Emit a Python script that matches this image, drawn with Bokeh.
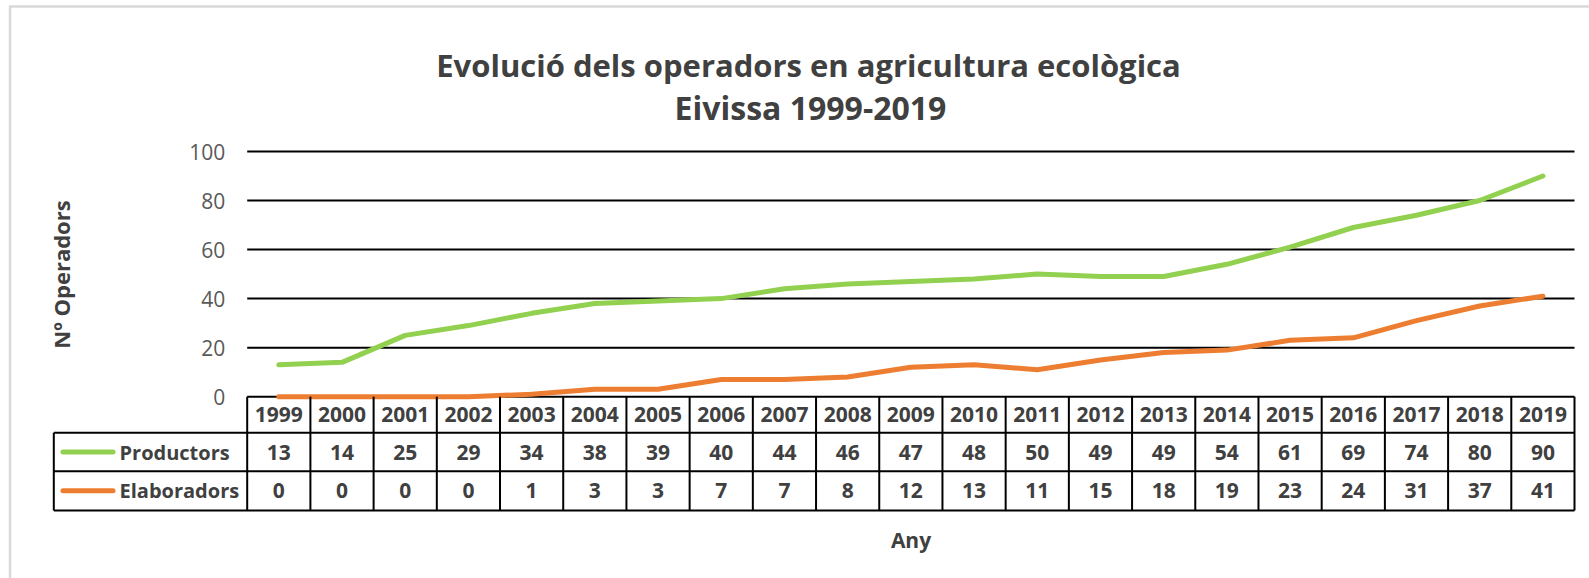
import math
from bokeh.plotting import figure
from bokeh.models import Range1d, FixedTicker
from bokeh.core.properties import value
from bokeh.embed import file_html
from bokeh.resources import INLINE

# ---------------- data ----------------
years = [str(y) for y in range(1999, 2020)]
productors = [13, 14, 25, 29, 34, 38, 39, 40, 44, 46, 47, 48, 50, 49, 49, 54, 61, 69, 74, 80, 90]
elaboradors = [0, 0, 0, 0, 1, 3, 3, 7, 7, 8, 12, 13, 11, 15, 18, 19, 23, 24, 31, 37, 41]
series_names = ["Productors", "Elaboradors"]
y_ticks = [0, 20, 40, 60, 80, 100]
title_lines = ["Evolució dels operadors en agricultura ecològica", "Eivissa 1999-2019"]
y_label = "Nº Operadors"
x_label = "Any"

# ---------------- layout (canvas px) ----------------
W, H = 1589, 578
COL_X0, COL_X1 = 246.7, 1574.0      # year columns area
TABLE_LEFT = 53.3                   # left edge of legend column
Y0_PX, Y100_PX = 396.2, 151.0       # y=0 and y=100 positions
ROW_EDGES = [396.2, 432.3, 470.7, 510.0]

n = len(years)
col_w = (COL_X1 - COL_X0) / n
ppu = (Y0_PX - Y100_PX) / 100.0
x_start = -0.5 - COL_X0 / col_w
x_end = n - 0.5 + (W - COL_X1) / col_w
y_start = -(H - Y0_PX) / ppu
y_end = 100 + Y100_PX / ppu

GREEN = "#92D050"
ORANGE = "#ED7D31"
TXT = "#404040"
FONT = value("Open Sans")

p = figure(width=W, height=H, output_backend="svg", toolbar_location=None,
           x_range=Range1d(x_start, x_end), y_range=Range1d(y_start, y_end),
           x_axis_location=None, min_border=0, min_border_left=0,
           min_border_right=0, min_border_top=0, min_border_bottom=0)
p.extra_x_ranges = {"px": Range1d(0, W)}
p.extra_y_ranges = {"px": Range1d(H, 0)}
p.outline_line_color = None
p.grid.visible = False
p.background_fill_color = "white"
p.border_fill_color = "white"

# y axis placed at the left edge of the year columns
ax = p.yaxis[0]
ax.fixed_location = -0.5
ax.ticker = FixedTicker(ticks=y_ticks)
ax.axis_line_color = None
ax.major_tick_line_color = None
ax.minor_tick_line_color = None
ax.major_tick_in = 0
ax.major_tick_out = 0
ax.major_label_standoff = 22
ax.major_label_text_font = "Open Sans"
ax.major_label_text_font_size = "21px"
ax.major_label_text_color = "#595959"

# horizontal gridlines (0 line doubles as table top)
p.segment(x0=[-0.5] * len(y_ticks), x1=[n - 0.5] * len(y_ticks), y0=y_ticks, y1=y_ticks,
          line_color="black", line_width=2)

# series lines
xs = list(range(n))
p.line(xs, productors, line_color=GREEN, line_width=5, line_cap="round", line_join="round")
p.line(xs, elaboradors, line_color=ORANGE, line_width=5, line_cap="round", line_join="round")

# ---------- data table ----------
edges = [i - 0.5 for i in range(n + 1)]
p.segment(x0=edges, x1=edges, y0=[ROW_EDGES[0]] * len(edges), y1=[ROW_EDGES[-1]] * len(edges),
          y_range_name="px", line_color="black", line_width=2)
p.segment(x0=[TABLE_LEFT] * 3, x1=[COL_X1] * 3, y0=ROW_EDGES[1:], y1=ROW_EDGES[1:],
          x_range_name="px", y_range_name="px", line_color="black", line_width=2)
p.segment(x0=[TABLE_LEFT], x1=[TABLE_LEFT], y0=[ROW_EDGES[1]], y1=[ROW_EDGES[-1]],
          x_range_name="px", y_range_name="px", line_color="black", line_width=2)

row_c = [(ROW_EDGES[i] + ROW_EDGES[i + 1]) / 2 for i in range(3)]
text_kw = dict(text_font=FONT, text_font_style="bold", text_font_size="21px",
               text_color=TXT, text_align="center", text_baseline="middle")
p.text(x=xs, y=[row_c[0]] * n, text=years, y_range_name="px", **text_kw)
p.text(x=xs, y=[row_c[1]] * n, text=[str(v) for v in productors], y_range_name="px", **text_kw)
p.text(x=xs, y=[row_c[2]] * n, text=[str(v) for v in elaboradors], y_range_name="px", **text_kw)

# legend keys in the table
for color, yc, name in [(GREEN, row_c[1], series_names[0]), (ORANGE, row_c[2], series_names[1])]:
    p.segment(x0=[62.5], x1=[112.5], y0=[yc], y1=[yc], x_range_name="px", y_range_name="px",
              line_color=color, line_width=5, line_cap="round")
    p.text(x=[119], y=[yc], text=[name], x_range_name="px", y_range_name="px",
           text_font=FONT, text_font_style="bold", text_font_size="20px",
           text_color=TXT, text_align="left", text_baseline="middle")

# titles and axis labels
p.text(x=[808], y=[64], text=[title_lines[0]], x_range_name="px", y_range_name="px",
       text_font=FONT, text_font_style="bold", text_font_size="31px",
       text_color=TXT, text_align="center", text_baseline="alphabetic")
p.text(x=[810], y=[107], text=[title_lines[1]], x_range_name="px", y_range_name="px",
       text_font=FONT, text_font_style="bold", text_font_size="32px",
       text_color=TXT, text_align="center", text_baseline="alphabetic")
p.text(x=[910.5], y=[539], text=[x_label], x_range_name="px", y_range_name="px",
       text_font=FONT, text_font_style="bold", text_font_size="21px",
       text_color=TXT, text_align="center", text_baseline="alphabetic")
p.text(x=[60], y=[274], text=[y_label], x_range_name="px", y_range_name="px", angle=math.pi / 2,
       text_font=FONT, text_font_style="bold", text_font_size="22px",
       text_color=TXT, text_align="center", text_baseline="middle")

# light chart-area frame (top and left edges)
p.segment(x0=[9.5, 8.5], x1=[9.5, W], y0=[6, 6], y1=[H, 6], x_range_name="px", y_range_name="px",
          line_color="#D9D9D9", line_width=2.5)

open("out.html", "w").write(file_html(p, INLINE))
